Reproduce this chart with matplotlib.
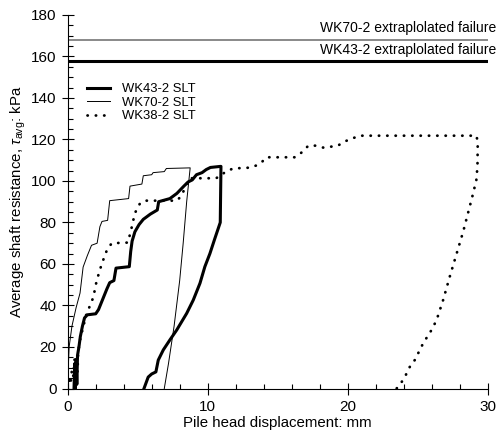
import matplotlib
matplotlib.use('Agg')
import matplotlib.pyplot as plt
from matplotlib.ticker import MultipleLocator

plt.rcParams['font.family'] = ['Liberation Sans', 'DejaVu Sans']
plt.rcParams['mathtext.fontset'] = 'custom'
plt.rcParams['mathtext.rm'] = 'Liberation Sans'
plt.rcParams['mathtext.it'] = 'Liberation Sans:italic'

# WK43-2 SLT (loading then unloading)
wk43_x = [0.45, 0.5, 0.55, 0.6, 0.65, 0.7, 0.8, 0.9, 1.05, 1.2, 1.4, 2.0, 2.2, 2.5, 2.8, 3.0, 3.3,
          3.45, 4.4, 4.5, 4.6, 4.8, 5.1, 5.4, 5.9, 6.4, 6.5, 7.3, 7.8, 8.3, 8.6, 8.9, 9.2, 9.6,
          9.9, 10.2, 10.9, 10.95, 10.9, 10.75, 10.5, 10.16, 9.8, 9.45, 8.97, 8.5, 7.79, 7.3,
          6.83, 6.47, 6.3, 6.0, 5.75, 5.45]
wk43_y = [0, 12, 0, 14, 2, 16, 20, 25, 30, 34, 35.5, 36, 38, 43, 48, 51, 52,
          58, 58.7, 66, 71, 75.5, 79, 81.5, 84, 86, 90, 91.5, 94, 97.5, 99.5, 100.5, 103, 104,
          105.5, 106.5, 107, 107, 80, 77, 72, 65, 58.7, 50.7, 42.6, 36.2, 28.2, 23.4,
          18.6, 13.7, 8, 7, 5.5, 0]

# WK70-2 SLT
wk70_x = [0, 0.05, 0.1, 0.3, 0.6, 0.88, 1.1, 1.4, 1.7, 2.1, 2.3, 2.45, 2.85, 3.0, 4.35, 4.45,
          5.3, 5.4, 6.0, 6.1, 6.9, 7.05, 8.75, 8.5, 8.25, 8.0, 7.6, 7.2, 6.9]
wk70_y = [0, 12, 20, 30, 39, 46, 58.5, 64, 69, 70, 78, 80.5, 81, 90.5, 91.5, 97.5,
          98.5, 102.5, 103, 104, 104.5, 106, 106.3, 90, 70, 52, 30, 12, 0]

# WK38-2 SLT
wk38_x = [0, 0.1, 0.2, 0.3, 0.4, 0.5, 0.6, 0.7, 0.75, 0.85, 0.95, 1.1, 1.25, 1.4, 1.6, 1.83,
          2.07, 2.43, 2.79, 3.14, 4.3, 4.55, 4.8, 5.15, 5.5, 7.8, 8.15, 8.45, 8.75, 10.6, 10.9,
          11.2, 11.8, 13.0, 13.5, 13.9, 14.2, 16.2, 16.6, 17.2, 17.7, 18.3, 19.3, 19.8, 20.2,
          20.9, 29.2, 29.3, 29.28, 29.2, 28.97, 28.6, 28.26, 27.8, 27.3, 26.83, 26.36, 26.0,
          25.4, 24.8, 24.45, 24.1, 23.73, 23.5]
wk38_y = [0, 4, 2, 9, 6, 15, 12, 8, 18, 22, 26, 29, 34, 37, 40, 44,
          52, 60, 66.5, 70, 70.3, 77, 84.5, 89, 90.5, 90.5, 93, 98, 101.3, 101.3, 102.5,
          104, 106, 106.4, 107.5, 109.3, 111.4, 111.4, 113, 117, 117, 116, 117, 119, 120.2,
          121.8, 121.8, 119, 107, 100.5, 94, 84.4, 75.6, 65.2, 53.9, 42.7, 33, 28.2,
          21.8, 13.7, 10.5, 5.7, 1.7, 0]

fail_wk70 = 168
fail_wk43 = 158

fig = plt.figure(figsize=(4.98, 4.38), dpi=100)
ax = fig.add_axes([0.136, 0.113, 0.843, 0.853])

ax.axhline(fail_wk70, color='#808080', lw=1.3)
ax.axhline(fail_wk43, color='black', lw=2.2)
ax.text(30.6, 170.3, 'WK70-2 extraplolated failure', ha='right', va='bottom', fontsize=10)
ax.text(30.6, 159.5, 'WK43-2 extraplolated failure', ha='right', va='bottom', fontsize=10)

ax.plot(wk43_x, wk43_y, color='black', lw=2.2, label='WK43-2 SLT')
ax.plot(wk70_x, wk70_y, color='black', lw=0.7, label='WK70-2 SLT')
ax.plot(wk38_x, wk38_y, color='black', lw=2.0, linestyle=(0, (0.1, 2.9)),
        dash_capstyle='round', label='WK38-2 SLT')

ax.set_xlim(0, 30)
ax.set_ylim(0, 180)
ax.spines['top'].set_visible(False)
ax.spines['right'].set_visible(False)
ax.xaxis.set_major_locator(MultipleLocator(10))
ax.xaxis.set_minor_locator(MultipleLocator(2))
ax.yaxis.set_major_locator(MultipleLocator(20))
ax.yaxis.set_minor_locator(MultipleLocator(5))
ax.tick_params(which='major', direction='inout', length=9, width=0.8, labelsize=11)
ax.tick_params(which='minor', direction='in', length=3.5, width=0.8)
ax.tick_params(axis='x', which='major', pad=4)

ax.set_xlabel('Pile head displacement: mm', fontsize=10.8, labelpad=1)
ax.set_ylabel(r'Average shaft resistance, $\tau_{\mathrm{avg}}$: kPa', fontsize=10.8, labelpad=2)

ax.legend(loc='upper left', bbox_to_anchor=(0.03, 0.835), frameon=False, fontsize=9.4,
          borderpad=0, handlelength=1.8, handletextpad=0.9, labelspacing=0.1)

fig.savefig('out.png', dpi=100)
